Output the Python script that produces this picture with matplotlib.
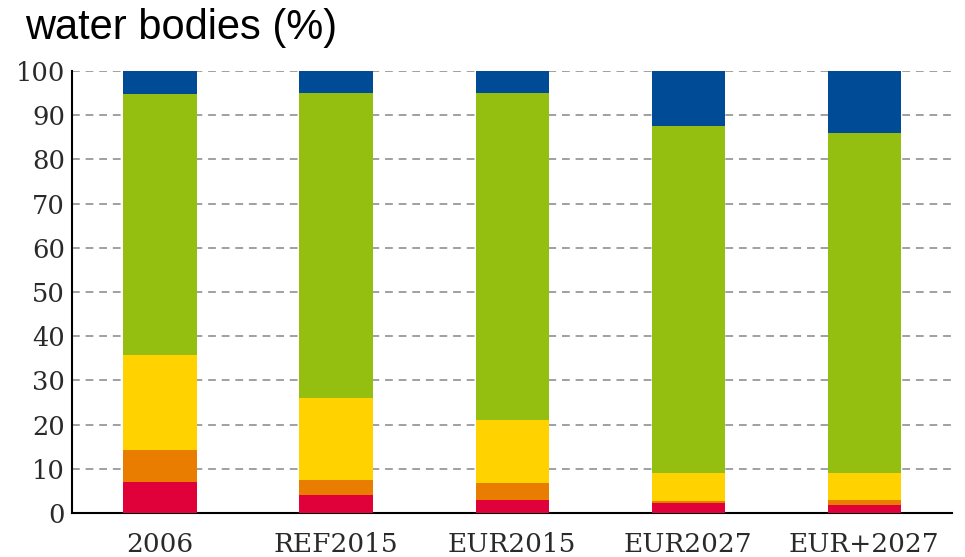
"""Status of water bodies per scenario, stacked shares"""
import matplotlib
matplotlib.use('Agg')
import matplotlib.pyplot as plt
import numpy as np

SCENARIOS = ['2006', 'REF2015', 'EUR2015', 'EUR2027', 'EUR+2027']

# stacked class shares (%), bottom to top
RED = [7.0, 4.0, 3.0, 2.3, 1.7]
ORANGE = [7.3, 3.4, 3.9, 0.5, 1.2]
YELLOW = [21.4, 18.6, 14.1, 6.3, 6.2]
GREEN = [59.1, 69.0, 74.0, 78.5, 76.8]
BLUE = [5.2, 5.0, 5.0, 12.4, 14.1]

COLORS = ['#e0003a', '#e87d00', '#ffd200', '#94bf10', '#004b96']

fig = plt.figure(figsize=(9.65, 5.57), dpi=100)
ax = fig.add_axes([0.0746, 0.079, 0.912, 0.7935])

x = np.arange(len(SCENARIOS))
bottom = np.zeros(len(SCENARIOS))
for vals, col in zip([RED, ORANGE, YELLOW, GREEN, BLUE], COLORS):
    ax.bar(x, vals, bottom=bottom, width=0.415, color=col, zorder=3)
    bottom += np.array(vals)

ax.set_xlim(-0.5, 4.5)
ax.set_ylim(0, 100)
ax.set_yticks(range(0, 101, 10))
ax.set_xticks(x)
ax.set_xticklabels(SCENARIOS)
ax.yaxis.grid(True, linestyle=(0, (4, 3)), color='#a0a0a0', linewidth=1.4, zorder=0)
ax.tick_params(axis='both', length=0)
ax.tick_params(axis='x', pad=14, labelsize=19)
ax.tick_params(axis='y', pad=5, labelsize=18.5)
for lab in ax.get_xticklabels() + ax.get_yticklabels():
    lab.set_family('DejaVu Serif')
    lab.set_color('#2a2a2a')
for side in ['top', 'right']:
    ax.spines[side].set_visible(False)
ax.spines['left'].set_linewidth(1.5)
ax.spines['bottom'].set_linewidth(1.5)

fig.text(0.026, 0.93, 'water bodies (%)', fontsize=30, family='Liberation Sans',
         va='baseline')

plt.savefig('out.png', dpi=100)
